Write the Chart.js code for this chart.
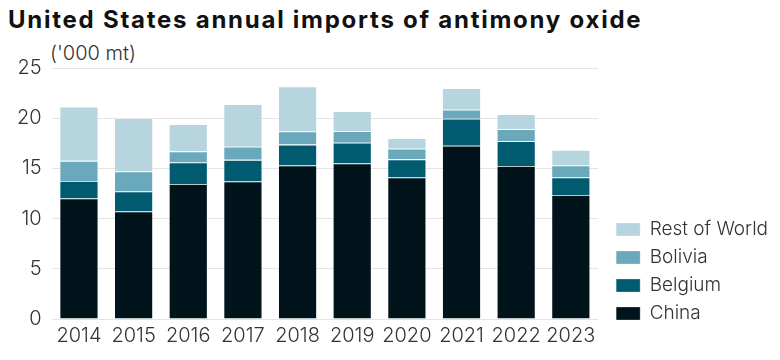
<!DOCTYPE html>
<html>
<head>
<meta charset="utf-8">
<script src="https://cdn.jsdelivr.net/npm/chart.js@4"></script>
<style>
    body { margin: 0; background: #fff; }
    #wrap { position: relative; width: 780px; height: 360px; font-family: 'Inter', 'Roboto', sans-serif; }
    #title { position: absolute; left: 8px; top: 5px; font-size: 24px; font-weight: 700; color: #111; letter-spacing: 1.75px; white-space: nowrap; }
    #unit { position: absolute; left: 50px; top: 41px; font-size: 20px; font-weight: 300; color: #333; }
    canvas { position: absolute; left: 0; top: 0; }
</style>
</head>
<body>
<div id="wrap">
    <div id="title">United States annual imports of antimony oxide</div>
    <div id="unit">('000 mt)</div>
    <canvas id="chart" width="780" height="360"></canvas>
</div>
<script>
const years = ['2014', '2015', '2016', '2017', '2018', '2019', '2020', '2021', '2022', '2023'];
const china = [12.0, 10.7, 13.45, 13.7, 15.3, 15.5, 14.1, 17.25, 15.25, 12.35];
const belgium = [1.75, 2.0, 2.15, 2.15, 2.07, 2.05, 1.8, 2.7, 2.45, 1.75];
const bolivia = [2.0, 2.0, 1.1, 1.3, 1.3, 1.15, 1.05, 0.9, 1.2, 1.2];
const restOfWorld = [5.4, 5.3, 2.7, 4.25, 4.5, 2.0, 1.05, 2.15, 1.5, 1.55];
const yTicks = [0, 5, 10, 15, 20, 25];

const seriesNames = ['China', 'Belgium', 'Bolivia', 'Rest of World'];
const seriesColors = ['#02141b', '#005b71', '#69a9bb', '#b6d5de'];
const seriesData = [china, belgium, bolivia, restOfWorld];

const textFont = { family: "'Inter', 'Roboto', sans-serif", size: 20, weight: 300 };
const legendFont = { family: "'Inter', 'Roboto', sans-serif", size: 19, weight: 300 };

const datasets = seriesNames.map((name, i) => ({
    label: name,
    data: seriesData[i],
    backgroundColor: seriesColors[i],
    borderColor: 'rgba(255,255,255,0.35)',
    borderWidth: 0.8,
    barPercentage: 0.71,
    categoryPercentage: 1.0
}));

// push the legend down next to the bottom of the bars and a bit away from the plot
const legendShift = {
    id: 'legendShift',
    afterLayout(chart) {
        const lg = chart.legend;
        const dy = chart.chartArea.bottom + 13 - lg.bottom;
        const dx = 9;
        lg.top += dy; lg.bottom += dy;
        lg.left += dx; lg.right += dx;
    }
};

new Chart(document.getElementById('chart'), {
    type: 'bar',
    data: { labels: years, datasets: datasets },
    options: {
        responsive: false,
        animation: false,
        layout: { padding: { left: 7, right: 11, top: 68, bottom: 7 } },
        scales: {
            x: {
                stacked: true,
                grid: { display: false, drawTicks: false },
                border: { display: false },
                ticks: { color: '#333', font: textFont, padding: 5, maxRotation: 0 }
            },
            y: {
                stacked: true,
                min: 0,
                max: 25,
                afterBuildTicks: axis => { axis.ticks = yTicks.map(v => ({ value: v })); },
                grid: { color: '#e4e4e4', lineWidth: 1, drawTicks: false },
                border: { display: false },
                ticks: { color: '#333', font: textFont, padding: 10 }
            }
        },
        plugins: {
            legend: {
                position: 'right',
                align: 'end',
                reverse: true,
                labels: {
                    boxWidth: 24,
                    boxHeight: 13,
                    padding: 9,
                    color: '#333',
                    font: legendFont
                }
            },
            tooltip: { enabled: false }
        }
    },
    plugins: [legendShift]
});
</script>
</body>
</html>
